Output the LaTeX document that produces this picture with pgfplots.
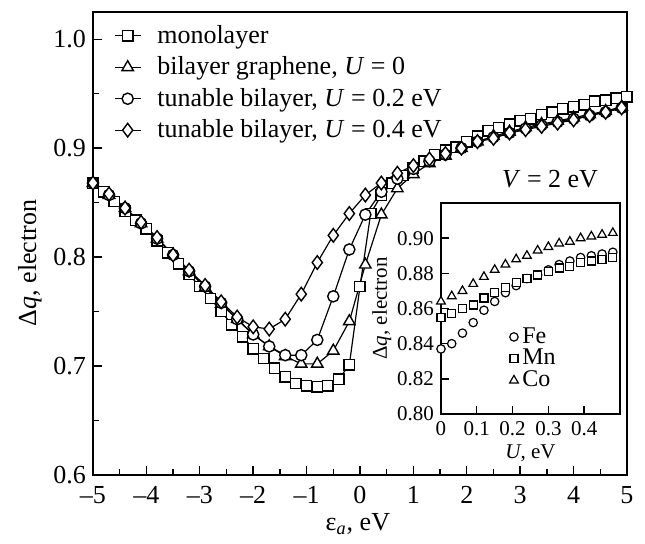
\documentclass[border=0pt]{standalone}
\usepackage{fontspec}
\setmainfont{Liberation Serif}
\usepackage{pgfplots}
\pgfplotsset{compat=1.18}
\usepackage{pgfplotstable}
\usetikzlibrary{calc}

\pgfplotstableread{
x y
-5.0 0.868
-4.8 0.860
-4.6 0.851
-4.4 0.842
-4.2 0.834
-4.0 0.826
-3.8 0.815
-3.6 0.804
-3.4 0.794
-3.2 0.784
-3.0 0.773
-2.8 0.762
-2.6 0.750
-2.4 0.738
-2.2 0.727
-2.0 0.716
-1.8 0.707
-1.6 0.698
-1.4 0.690
-1.2 0.684
-1.0 0.682
-0.8 0.681
-0.6 0.682
-0.4 0.688
-0.2 0.701
0.0 0.773
0.2 0.840
0.4 0.857
0.6 0.868
0.8 0.875
1.0 0.882
1.2 0.888
1.4 0.894
1.6 0.898
1.8 0.901
2.0 0.906
2.2 0.911
2.4 0.916
2.6 0.919
2.8 0.922
3.0 0.925
3.2 0.927
3.4 0.931
3.6 0.933
3.8 0.936
4.0 0.938
4.2 0.940
4.4 0.943
4.6 0.944
4.8 0.946
5.0 0.947
}\mono

\pgfplotstableread{
x y
-5.0 0.868
-4.7 0.857
-4.4 0.845
-4.1 0.831
-3.8 0.817
-3.5 0.802
-3.2 0.787
-2.9 0.772
-2.6 0.757
-2.3 0.743
-2.0 0.729
-1.7 0.718
-1.4 0.709
-1.1 0.702
-0.8 0.702
-0.5 0.714
-0.2 0.741
0.1 0.793
0.4 0.839
0.7 0.863
1.0 0.876
1.3 0.886
1.6 0.893
1.9 0.900
2.2 0.906
2.5 0.911
2.8 0.915
3.1 0.919
3.4 0.922
3.7 0.925
4.0 0.928
4.3 0.931
4.6 0.934
4.9 0.938
}\bizero

\pgfplotstableread{
x y
-5.0 0.868
-4.7 0.857
-4.4 0.845
-4.1 0.831
-3.8 0.817
-3.5 0.802
-3.2 0.787
-2.9 0.773
-2.6 0.758
-2.3 0.743
-2.0 0.729
-1.7 0.718
-1.4 0.710
-1.1 0.710
-0.8 0.724
-0.5 0.764
-0.2 0.807
0.1 0.839
0.4 0.860
0.7 0.872
1.0 0.881
1.3 0.888
1.6 0.894
1.9 0.900
2.2 0.906
2.5 0.910
2.8 0.914
3.1 0.918
3.4 0.921
3.7 0.924
4.0 0.927
4.3 0.930
4.6 0.933
4.9 0.937
}\bitwo

\pgfplotstableread{
x y
-5.0 0.868
-4.7 0.858
-4.4 0.845
-4.1 0.832
-3.8 0.818
-3.5 0.802
-3.2 0.788
-2.9 0.774
-2.6 0.759
-2.3 0.745
-2.0 0.736
-1.7 0.734
-1.4 0.743
-1.1 0.766
-0.8 0.795
-0.5 0.820
-0.2 0.840
0.1 0.857
0.4 0.868
0.7 0.877
1.0 0.884
1.3 0.890
1.6 0.895
1.9 0.900
2.2 0.906
2.5 0.909
2.8 0.914
3.1 0.917
3.4 0.920
3.7 0.923
4.0 0.926
4.3 0.930
4.6 0.933
4.9 0.937
}\bifour

\pgfplotstableread{
x Fe Mn Co
0.00 0.837 0.855 0.864
0.03 0.840 0.857 0.867
0.06 0.846 0.860 0.870
0.09 0.852 0.862 0.874
0.12 0.859 0.866 0.878
0.15 0.864 0.869 0.882
0.18 0.869 0.872 0.885
0.21 0.873 0.875 0.888
0.24 0.877 0.877 0.890
0.27 0.879 0.879 0.893
0.30 0.882 0.881 0.895
0.33 0.885 0.883 0.897
0.36 0.887 0.884 0.898
0.39 0.889 0.886 0.900
0.42 0.890 0.887 0.901
0.45 0.891 0.888 0.902
0.48 0.892 0.889 0.903
}\inset

\newcommand{\mainfont}{\fontsize{13}{15}\selectfont}
\newcommand{\insfont}{\fontsize{10.5}{12}\selectfont}
\newcommand{\inslegfont}{\fontsize{12}{14}\selectfont}

\begin{document}
\begin{tikzpicture}
\begin{axis}[name=main, scale only axis, width=267pt, height=231.5pt,
  xmin=-5, xmax=5, ymin=0.6, ymax=1.025,
  xtick={-5,-4,-3,-2,-1,0,1,2,3,4,5},
  xticklabels={\textendash5,\textendash4,\textendash3,\textendash2,\textendash1,0,1,2,3,4,5},
  minor x tick num=1,
  ytick={0.6,0.7,0.8,0.9,1.0},
  yticklabels={0.6,0.7,0.8,0.9,1.0},
  minor y tick num=1,
  xtick pos=bottom, ytick pos=left, tick align=inside,
  major tick length=4.5pt, minor tick length=3pt,
  axis line style={line width=0.9pt},
  every tick/.style={line width=0.7pt, black},
  tick label style={font=\mainfont},
  xticklabel style={yshift=-2pt},
  xlabel={ε\textsubscript{\textit{a}}, eV},
  ylabel={Δ\textit{q}, electron},
  label style={font=\mainfont},
  xlabel style={at={(axis description cs:0.496,-0.106)}, anchor=center},
  ylabel style={at={(axis description cs:-0.118,0.458)}, anchor=center},
  legend style={draw=none, fill=none, at={(0.035,0.985)}, anchor=north west,
    font=\mainfont, row sep=1.2pt, inner sep=1pt},
  legend cell align=left,
  legend image code/.code={\draw[#1, mark repeat=2, mark phase=2] plot coordinates {(0pt,0pt) (6.5pt,0pt) (13pt,0pt)}; \path (19pt,0pt);},
  clip=false,
]
\addplot[black, line width=0.6pt, mark=square*, mark size=2.6pt, mark options={fill=white, draw=black, line width=0.7pt, solid}] table {\mono};
\addlegendentry{monolayer}
\addplot[black, line width=0.6pt, mark=triangle*, mark size=3.3pt, mark options={fill=white, draw=black, line width=0.7pt, solid}] table {\bizero};
\addlegendentry{bilayer graphene, \textit{U} = 0}
\addplot[black, line width=0.6pt, mark=*, mark size=2.8pt, mark options={fill=white, draw=black, line width=0.7pt, solid}] table {\bitwo};
\addlegendentry{tunable bilayer, \textit{U} = 0.2 eV}
\addplot[black, line width=0.6pt, mark=diamond*, mark size=3.4pt, mark options={fill=white, draw=black, line width=0.7pt, solid}] table {\bifour};
\addlegendentry{tunable bilayer, \textit{U} = 0.4 eV}
\node[font=\mainfont] at (axis cs:3.56,0.872) {\textit{V} = 2 eV};
\end{axis}

\begin{axis}[at={($(main.south west)+(174pt,30.5pt)$)}, anchor=south west,
  scale only axis, width=89.5pt, height=105.5pt,
  xmin=0, xmax=0.5, ymin=0.8, ymax=0.92,
  xtick={0,0.1,0.2,0.3,0.4}, xticklabels={0,0.1,0.2,0.3,0.4},
  ytick={0.80,0.82,0.84,0.86,0.88,0.90},
  yticklabels={0.80,0.82,0.84,0.86,0.88,0.90},
  xtick pos=bottom, ytick pos=left, tick align=inside,
  major tick length=4pt,
  axis line style={line width=0.9pt},
  every tick/.style={line width=0.7pt, black},
  axis background/.style={fill=white},
  tick label style={font=\insfont},
  xlabel={\textit{U}, eV}, ylabel={Δ\textit{q}, electron},
  label style={font=\insfont},
  xlabel style={at={(axis description cs:0.5,-0.185)}, anchor=center},
  ylabel style={at={(axis description cs:-0.33,0.5)}, anchor=center},
  legend style={draw=none, fill=none, at={(0.37,0.44)}, anchor=north west,
    font=\inslegfont, row sep=-2.5pt, inner sep=1pt},
  legend cell align=left,
  legend image code/.code={\draw[#1] plot coordinates {(3pt,0pt)};},
]
\addplot[only marks, mark=*, mark size=2.1pt, mark options={fill=white, draw=black, line width=0.6pt}] table[x=x, y=Fe] {\inset};
\addlegendentry{Fe}
\addplot[only marks, mark=square*, mark size=2pt, mark options={fill=white, draw=black, line width=0.6pt}] table[x=x, y=Mn] {\inset};
\addlegendentry{Mn}
\addplot[only marks, mark=triangle*, mark size=2.5pt, mark options={fill=white, draw=black, line width=0.6pt}] table[x=x, y=Co] {\inset};
\addlegendentry{Co}
\end{axis}
\pgfresetboundingbox
\path ($(main.south west)+(-46.5pt,-34pt)$) rectangle ++(322.5pt,271.5pt);
\end{tikzpicture}
\end{document}
